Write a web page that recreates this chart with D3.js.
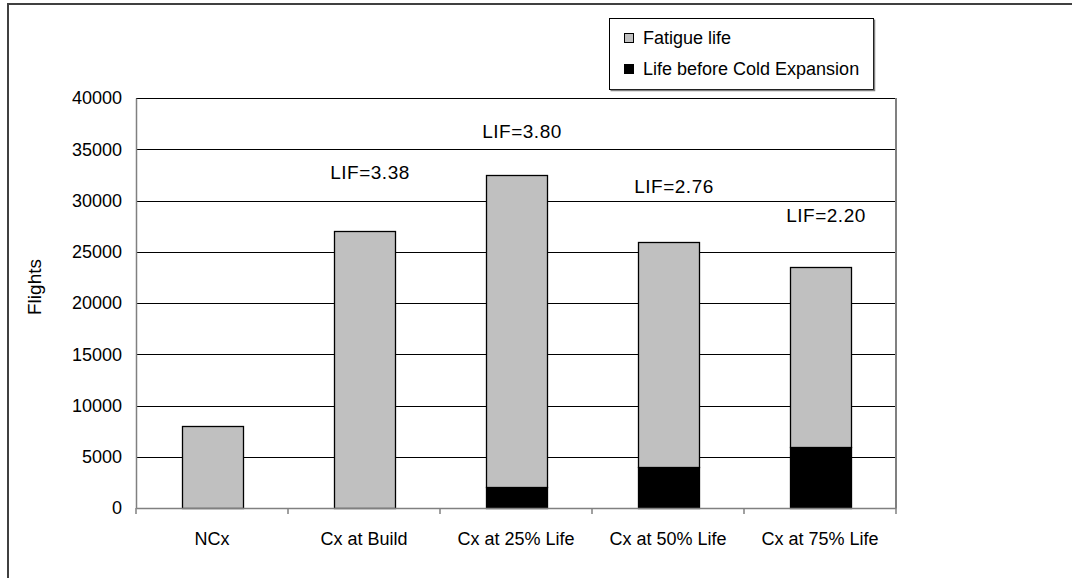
<!DOCTYPE html>
<meta charset="utf-8">
<script src="https://d3js.org/d3.v7.min.js"></script>
<style>
body { margin: 0; background: #fff; }
text { font-family: "Liberation Sans", Arial, sans-serif; fill: #000; }
</style>
<body>
<script>
// data
var categories = ['NCx', 'Cx at Build', 'Cx at 25% Life', 'Cx at 50% Life', 'Cx at 75% Life'];
var lifeBeforeCx = [0, 0, 2000, 4000, 6000];
var fatigueLife = [8000, 27000, 30500, 22000, 17500];
var lifLabels = ['', 'LIF=3.38', 'LIF=3.80', 'LIF=2.76', 'LIF=2.20'];
var lifLabelAt = [0, 32750, 36750, 31400, 28550];   // where the text boxes sit (in flights)
var yTicks = [0, 5000, 10000, 15000, 20000, 25000, 30000, 35000, 40000];
var seriesNames = ['Fatigue life', 'Life before Cold Expansion'];
var seriesColors = ['#c0c0c0', '#000000'];

var W = 1072, H = 578;
var plot = {left: 136, right: 896, top: 98, bottom: 508};

var svg = d3.select('body').append('svg')
    .attr('width', W)
    .attr('height', H);

// outer chart frame
svg.append('rect')
    .attr('x', 8).attr('y', 4)
    .attr('width', 1200).attr('height', 700)
    .attr('fill', 'none')
    .attr('stroke', '#404040')
    .attr('stroke-width', 2);

var x = d3.scaleBand()
    .domain(categories)
    .range([plot.left, plot.right])
    .paddingInner(0.6)
    .paddingOuter(0.3);

var y = d3.scaleLinear()
    .domain([0, 40000])
    .range([plot.bottom, plot.top]);

// gridlines
svg.append('g')
    .selectAll('line')
    .data(yTicks.filter(function(d) { return d > 0; }))
    .enter().append('line')
    .attr('x1', plot.left).attr('x2', plot.right)
    .attr('y1', function(d) { return Math.round(y(d)) + 0.5; })
    .attr('y2', function(d) { return Math.round(y(d)) + 0.5; })
    .attr('stroke', '#000')
    .attr('stroke-width', 1);

// right edge of plot area
svg.append('line')
    .attr('x1', plot.right).attr('x2', plot.right)
    .attr('y1', plot.top).attr('y2', plot.bottom)
    .attr('stroke', '#808080')
    .attr('stroke-width', 2);

// stacked bars
var rows = categories.map(function(c, i) {
    return {cat: c, before: lifeBeforeCx[i], fatigue: fatigueLife[i]};
});
var stack = d3.stack().keys(['before', 'fatigue'])(rows);
var colorOf = {before: seriesColors[1], fatigue: seriesColors[0]};

svg.append('g')
    .selectAll('g')
    .data(stack)
    .enter().append('g')
    .attr('fill', function(s) { return colorOf[s.key]; })
    .selectAll('rect')
    .data(function(s) { return s.filter(function(d) { return d[1] > d[0]; }); })
    .enter().append('rect')
    .attr('x', function(d) { return Math.round(x(d.data.cat)) + 0.5; })
    .attr('width', Math.round(x.bandwidth()))
    .attr('y', function(d) { return Math.round(y(d[1])) + 0.5; })
    .attr('height', function(d) { return Math.round(y(d[0])) - Math.round(y(d[1])); })
    .attr('stroke', '#000')
    .attr('stroke-width', 1.3);

// y axis
var yAxis = svg.append('g')
    .attr('transform', 'translate(' + plot.left + ',0)')
    .call(d3.axisLeft(y).tickValues(yTicks).tickSize(0).tickPadding(14).tickFormat(d3.format('d')));
yAxis.select('.domain').attr('stroke', '#808080').attr('stroke-width', 1.5);
yAxis.selectAll('text')
    .style('font-size', '18px')
    .style('font-family', '"Liberation Sans", Arial, sans-serif')
    .attr('fill', '#000');

// x axis with ticks at category boundaries
var xAxis = svg.append('g')
    .attr('transform', 'translate(0,' + plot.bottom + ')')
    .call(d3.axisBottom(x).tickSize(0).tickPadding(24));
xAxis.select('.domain').attr('stroke', '#808080').attr('stroke-width', 1.5);
xAxis.selectAll('text')
    .style('font-size', '18px')
    .style('font-family', '"Liberation Sans", Arial, sans-serif')
    .attr('fill', '#000');
xAxis.selectAll('line.sep')
    .data(d3.range(categories.length + 1))
    .enter().append('line')
    .attr('class', 'sep')
    .attr('x1', function(i) { return plot.left + i * x.step(); })
    .attr('x2', function(i) { return plot.left + i * x.step(); })
    .attr('y1', 0).attr('y2', 6)
    .attr('stroke', '#808080')
    .attr('stroke-width', 1.5);

// y axis title
svg.append('text')
    .text('Flights')
    .attr('transform', 'translate(41,287) rotate(-90)')
    .attr('text-anchor', 'middle')
    .style('font-size', '19px');

// LIF annotations
svg.append('g')
    .selectAll('text')
    .data(categories.map(function(c, i) { return {cat: c, t: lifLabels[i], v: lifLabelAt[i]}; })
        .filter(function(d) { return d.t; }))
    .enter().append('text')
    .text(function(d) { return d.t; })
    .attr('x', function(d) { return x(d.cat) + x.bandwidth() / 2 + 6; })
    .attr('y', function(d) { return y(d.v); })
    .attr('dy', '0.35em')
    .attr('text-anchor', 'middle')
    .style('font-size', '19px')
    .style('letter-spacing', '0.5px');

// legend
var lg = svg.append('g').attr('transform', 'translate(609,18)');
lg.append('rect')
    .attr('x', 0.5).attr('y', 0.5)
    .attr('width', 264).attr('height', 71)
    .attr('fill', '#fff')
    .attr('stroke', '#000');
lg.append('path')
    .attr('d', 'M265.5,1.5V72.5H1.5')
    .attr('fill', 'none')
    .attr('stroke', '#808080')
    .attr('stroke-width', 1.5);
seriesNames.forEach(function(name, i) {
    var yy = 20 + i * 31;
    lg.append('rect')
        .attr('x', 15.5).attr('y', yy - 4.5)
        .attr('width', 9).attr('height', 9)
        .attr('fill', seriesColors[i])
        .attr('stroke', '#000');
    lg.append('text')
        .text(name)
        .attr('x', 34)
        .attr('y', yy)
        .attr('dy', '0.35em')
        .style('font-size', '18px');
});
</script>
</body>
